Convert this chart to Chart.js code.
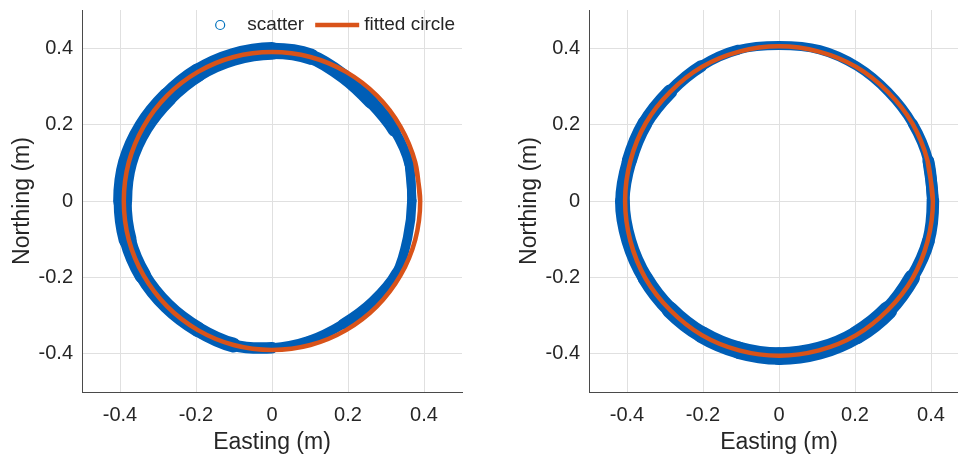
<!DOCTYPE html>
<html>
<head>
<meta charset="utf-8">
<script src="https://cdn.jsdelivr.net/npm/chart.js@4.4.1/dist/chart.umd.min.js"></script>
<style>
  html, body { margin: 0; padding: 0; background: #fff; }
  body { width: 958px; height: 454px; position: relative; overflow: hidden; }
  canvas { position: absolute; top: 0; }
  #leftPlot { left: 0; }
  #rightPlot { left: 507px; }
</style>
</head>
<body>
<canvas id="leftPlot" width="480" height="454"></canvas>
<canvas id="rightPlot" width="480" height="454"></canvas>
<script>
// tick marks shared by both panels
const tickValues = [-0.4, -0.2, 0, 0.2, 0.4];
const tickLabels = ['-0.4', '-0.2', '0', '0.2', '0.4'];

// left panel: centre of the scatter band and its spread (m), read every 15 deg from east
const leftScatterX = [0.368, 0.361, 0.322, 0.261, 0.189, 0.102, 0, -0.102, -0.195, -0.274, -0.338, -0.380, -0.393, -0.380, -0.340, -0.276, -0.195, -0.102, 0, 0.098, 0.187, 0.265, 0.328, 0.357, 0.368];
const leftScatterY = [0, 0.096, 0.185, 0.260, 0.326, 0.378, 0.393, 0.377, 0.336, 0.273, 0.194, 0.101, 0, -0.101, -0.195, -0.275, -0.336, -0.377, -0.384, -0.365, -0.322, -0.264, -0.188, -0.095, 0];
const leftSpread = [0.026, 0.021, 0.029, 0.039, 0.037, 0.039, 0.047, 0.047, 0.047, 0.050, 0.050, 0.050, 0.050, 0.045, 0.042, 0.039, 0.042, 0.037, 0.024, 0.024, 0.026, 0.029, 0.026, 0.024, 0.026];
const leftFitX = [0.390, 0.377, 0.338, 0.276, 0.195, 0.101, 0, -0.101, -0.195, -0.276, -0.338, -0.377, -0.390, -0.377, -0.338, -0.276, -0.195, -0.101, 0, 0.101, 0.195, 0.276, 0.338, 0.377, 0.390];
const leftFitY = [0, 0.101, 0.195, 0.276, 0.338, 0.377, 0.390, 0.377, 0.338, 0.276, 0.195, 0.101, 0, -0.101, -0.195, -0.276, -0.338, -0.377, -0.390, -0.377, -0.338, -0.276, -0.195, -0.101, 0];

// right panel
const rightScatterX = [0.405, 0.393, 0.352, 0.287, 0.205, 0.107, 0, -0.107, -0.205, -0.287, -0.353, -0.394, -0.412, -0.395, -0.352, -0.287, -0.203, -0.105, 0, 0.106, 0.204, 0.287, 0.350, 0.393, 0.405];
const rightScatterY = [0, 0.105, 0.202, 0.286, 0.353, 0.396, 0.407, 0.396, 0.353, 0.286, 0.203, 0.105, 0, -0.105, -0.202, -0.285, -0.350, -0.391, -0.406, -0.392, -0.351, -0.286, -0.201, -0.105, 0];
const rightSpread = [0.032, 0.029, 0.024, 0.024, 0.024, 0.024, 0.024, 0.024, 0.029, 0.034, 0.042, 0.037, 0.039, 0.039, 0.039, 0.042, 0.045, 0.045, 0.047, 0.047, 0.047, 0.050, 0.034, 0.034, 0.032];
const rightFitX = [0.405, 0.391, 0.351, 0.286, 0.203, 0.105, 0, -0.105, -0.203, -0.286, -0.351, -0.391, -0.405, -0.391, -0.351, -0.286, -0.203, -0.105, 0, 0.105, 0.203, 0.286, 0.351, 0.391, 0.405];
const rightFitY = [0, 0.105, 0.203, 0.286, 0.351, 0.391, 0.405, 0.391, 0.351, 0.286, 0.203, 0.105, 0, -0.105, -0.203, -0.286, -0.351, -0.391, -0.405, -0.391, -0.351, -0.286, -0.203, -0.105, 0];

const seriesLabels = ['scatter', 'fitted circle'];

Chart.defaults.font.family = '"Liberation Sans", Arial, Helvetica, sans-serif';
Chart.defaults.color = '#262626';

const textColor = '#262626';
const gridColor = '#e0e0e0';
const axisColor = '#4a4a4a';
const scatterBlue = '#005EB6';
const markerBlue = '#0072BD';
const fitOrange = '#D95319';

function toPoints(xs, ys) {
  const pts = xs.map((x, i) => ({x: x, y: ys[i]}));
  // repeat the second point so the closed loop joins smoothly
  return pts.concat([pts[1]]);
}

// legend drawn inside the axes, top right, like the matlab one
const innerLegend = {
  id: 'innerLegend',
  afterDraw(chart, args, opts) {
    if (!opts.show) return;
    const {ctx, chartArea} = chart;
    const iconW = 44, gap = 5, sep = 11;
    ctx.save();
    ctx.font = '19px "Liberation Sans", Arial, sans-serif';
    ctx.textBaseline = 'middle';
    const items = chart.data.datasets.map(ds => ({ds: ds, w: ctx.measureText(ds.label).width}));
    let x = chartArea.right - 7 - items.reduce((s, it) => s + iconW + gap + it.w, 0) - sep * (items.length - 1);
    const y = chartArea.top + 15;
    items.forEach(({ds, w}) => {
      ctx.beginPath();
      if (ds.legendMarker === 'circle') {
        ctx.arc(x + iconW / 2, y, 4.5, 0, Math.PI * 2);
        ctx.strokeStyle = markerBlue;
        ctx.lineWidth = 1.2;
      } else {
        ctx.moveTo(x, y);
        ctx.lineTo(x + iconW, y);
        ctx.strokeStyle = ds.borderColor;
        ctx.lineWidth = ds.borderWidth;
      }
      ctx.stroke();
      ctx.fillStyle = textColor;
      ctx.fillText(ds.label, x + iconW + gap, y);
      x += iconW + gap + w + sep;
    });
    ctx.restore();
  }
};

function axisOptions(title, isY) {
  return {
    type: 'linear',
    min: -0.5,
    max: 0.5,
    afterBuildTicks: scale => { scale.ticks = tickValues.map(v => ({value: v})); },
    afterFit: scale => {
      if (isY) {
        scale.width = 82;
        scale.paddingTop = 0;
        scale.paddingBottom = 0;
      } else {
        scale.height = 62;
        scale.paddingLeft = 0;
        scale.paddingRight = 0;
      }
    },
    grid: { color: gridColor, lineWidth: 1, drawTicks: false },
    border: { display: true, color: axisColor, width: 1 },
    ticks: {
      color: textColor,
      font: { size: 20, lineHeight: 1.2 },
      padding: isY ? 9 : 11,
      callback: (v, i) => tickLabels[i]
    },
    title: {
      display: true,
      text: title,
      color: textColor,
      font: { size: 23, lineHeight: 1 },
      padding: isY ? { top: 11, bottom: 0 } : { top: 0, bottom: 0 }
    }
  };
}

function makePanel(canvasId, sx, sy, spread, fx, fy, showLegend) {
  const spreadPts = spread.concat([spread[1]]);
  const bandWidth = ctx => {
    const xs = ctx.chart.scales.x;
    const s = (spreadPts[ctx.p0DataIndex] + spreadPts[ctx.p1DataIndex]) / 2;
    return Math.abs(xs.getPixelForValue(s) - xs.getPixelForValue(0));
  };
  return new Chart(document.getElementById(canvasId), {
    type: 'scatter',
    data: {
      datasets: [
        {
          label: seriesLabels[0],
          legendMarker: 'circle',
          data: toPoints(sx, sy),
          showLine: true,
          tension: 0.34,
          borderColor: scatterBlue,
          borderWidth: 14,
          borderCapStyle: 'round',
          borderJoinStyle: 'round',
          segment: { borderWidth: bandWidth },
          pointRadius: 0,
          order: 2
        },
        {
          label: seriesLabels[1],
          data: toPoints(fx, fy),
          showLine: true,
          tension: 0.34,
          borderColor: fitOrange,
          borderWidth: 4.5,
          borderCapStyle: 'round',
          pointRadius: 0,
          order: 1
        }
      ]
    },
    options: {
      responsive: false,
      animation: false,
      events: [],
      layout: { padding: { top: 10, right: 18, left: 0, bottom: 0 } },
      plugins: {
        legend: { display: false },
        tooltip: { enabled: false },
        innerLegend: { show: showLegend }
      },
      scales: {
        x: axisOptions('Easting (m)', false),
        y: axisOptions('Northing (m)', true)
      }
    },
    plugins: [innerLegend]
  });
}

makePanel('leftPlot', leftScatterX, leftScatterY, leftSpread, leftFitX, leftFitY, true);
makePanel('rightPlot', rightScatterX, rightScatterY, rightSpread, rightFitX, rightFitY, false);
</script>
</body>
</html>
